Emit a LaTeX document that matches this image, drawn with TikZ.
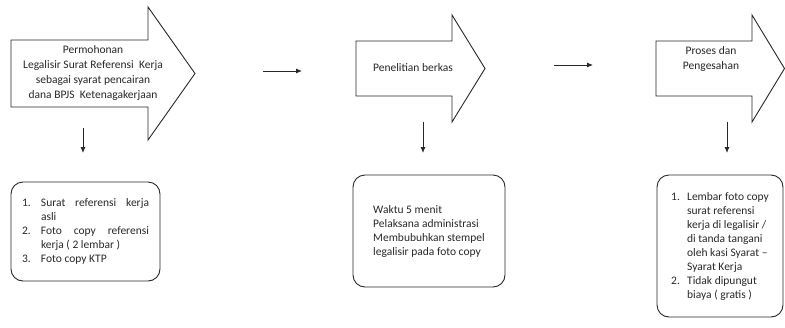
\documentclass[tikz,border=0pt]{standalone}
\usepackage{fontspec}
\setmainfont{Carlito}
\usepackage{tikz}
\usetikzlibrary{arrows.meta, positioning}
\definecolor{inkgray}{RGB}{40, 40, 40}
\hyphenpenalty=10000
\exhyphenpenalty=10000

\begin{document}
\begin{tikzpicture}[
  x=1pt, y=-1pt,
  bigarrow/.style={draw=inkgray, line width=0.9pt, fill=white, line join=miter},
  arrowtext/.style={font=\fontsize{11.5}{15}\selectfont, text=inkgray, align=center, inner sep=0pt},
  infobox/.style={draw=inkgray, line width=0.9pt, rounded corners=12pt, font=\fontsize{11.5}{14}\selectfont,
    text=inkgray, align=left, inner sep=0pt},
  link/.style={-{Latex[length=6pt, width=5pt]}, line width=0.9pt, inkgray}
]
  \useasboundingbox (0,0) rectangle (785,327);

  % Step 1
  \draw[bigarrow] (11,40) -- (148,40) -- (148,7) -- (195,73.5) -- (148,140) -- (148,107) -- (11,107) -- cycle;
  \node[arrowtext] (step1) at (93,73) {Permohonan\\Legalisir Surat Referensi\ \ Kerja\\sebagai syarat pencairan\\dana BPJS\ \ Ketenagakerjaan};

  % Step 2
  \draw[bigarrow] (356,41) -- (452,41) -- (452,15) -- (485,68.5) -- (452,122) -- (452,96) -- (356,96) -- cycle;
  \node[arrowtext] (step2) at (413,68) {Penelitian berkas};

  % Step 3
  \draw[bigarrow] (656,41) -- (752,41) -- (752,15) -- (784.5,68.5) -- (752,122) -- (752,96) -- (656,96) -- cycle;
  \node[arrowtext] (step3) at (711,58.5) {Proses dan\\Pengesahan};

  % Detail boxes
  \node[infobox, minimum width=149pt, minimum height=99pt] (syarat) at (85.5,231.5) {%
    \makebox[19pt][l]{1.}\makebox[108pt][s]{Surat referensi kerja}\\
    \hspace*{19pt}asli\\
    \makebox[19pt][l]{2.}\makebox[108pt][s]{Foto copy referensi}\\
    \hspace*{19pt}kerja ( 2 lembar )\\
    \makebox[19pt][l]{3.}Foto copy KTP};
  \node[infobox, minimum width=152pt, minimum height=112pt] (waktu) at (429,231) {%
    Waktu 5 menit\\Pelaksana administrasi\\Membubuhkan stempel\\legalisir pada foto copy};
  \node[infobox, minimum width=126pt, minimum height=142pt] (hasil) at (720,246) {%
    \makebox[16pt][l]{1.}Lembar foto copy\\
    \hspace*{16pt}surat referensi\\
    \hspace*{16pt}kerja di legalisir /\\
    \hspace*{16pt}di tanda tangani\\
    \hspace*{16pt}oleh kasi Syarat --\\
    \hspace*{16pt}Syarat Kerja\\
    \makebox[16pt][l]{2.}Tidak dipungut\\
    \hspace*{16pt}biaya ( gratis )};

  % Small connectors
  \coordinate (h1s) at (263,71);
  \coordinate (h1e) at (302,71);
  \coordinate (h2s) at (554,65);
  \coordinate (h2e) at (593,65);
  \coordinate (d1s) at (83,128);
  \coordinate (d1e) at (83,153);
  \coordinate (d2s) at (423,122);
  \coordinate (d2e) at (423,153);
  \coordinate (d3s) at (727,122);
  \coordinate (d3e) at (727,153);

  \draw[link] (h1s) -- (h1e);
  \draw[link] (h2s) -- (h2e);
  \draw[link] (d1s) -- (d1e);
  \draw[link] (d2s) -- (d2e);
  \draw[link] (d3s) -- (d3e);
\end{tikzpicture}
\end{document}
